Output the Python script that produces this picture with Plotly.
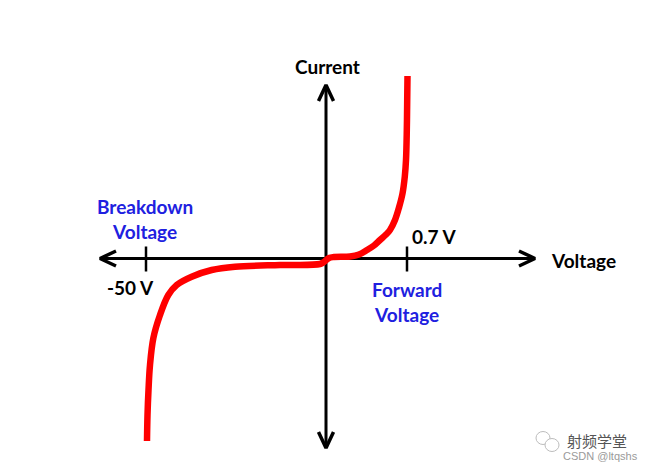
import plotly.graph_objects as go

# ---- data (schematic units: origin at axis crossing, 1 unit ~ 1 px) ----
curve_v = [-179, -178.5, -177.5, -176, -172.7, -166, -157.7, -149.3, -134.3, -114.3, -91,
           -46, -6, -2, 3, 8, 24, 33, 41, 48, 54, 60, 64, 69, 73, 76.5, 78.8, 80, 80.8, 81.2, 81.5]
curve_i = [-182.5, -156.5, -131.5, -106.5, -79.8, -56.5, -36.5, -26.5, -18.2, -11.5, -8.2,
           -6.5, -5.5, -3.5, 0.5, 1.5, 2, 4, 8.5, 13, 18.5, 24, 28.5, 38.5, 51, 65, 82,
           98.5, 128, 158, 182.5]

tick_positions = [-180, 81]
tick_labels = ["-50 V", "0.7 V"]

# axis extents
x_left, x_right = -226, 209
y_bottom, y_top = -189.5, 173.5

PAGE_MARGIN = 8          # default body margin of the html page
W, H = 652 - PAGE_MARGIN, 471 - PAGE_MARGIN
X0, Y0 = 326 - PAGE_MARGIN, 258.5 - PAGE_MARGIN  # figure pixel position of origin

fig = go.Figure()

axis_style = dict(color="black", width=3)

# horizontal & vertical axes
fig.add_trace(go.Scatter(x=[x_left + 3, x_right - 3], y=[0, 0], mode="lines",
                         line=axis_style, hoverinfo="skip"))
fig.add_trace(go.Scatter(x=[0, 0], y=[y_bottom + 3, y_top - 3], mode="lines",
                         line=axis_style, hoverinfo="skip"))

# chevron arrowheads
L, h = 16, 7.5
chev = [
    ([x_right - L, x_right, x_right - L], [h, 0, -h]),
    ([x_left + L, x_left, x_left + L], [h, 0, -h]),
    ([-h, 0, h], [y_top - L, y_top, y_top - L]),
    ([-h, 0, h], [y_bottom + L, y_bottom, y_bottom + L]),
]
for cx, cy in chev:
    fig.add_trace(go.Scatter(x=cx, y=cy, mode="lines",
                             line=dict(color="black", width=3.5),
                             hoverinfo="skip"))

# ticks
for tp in tick_positions:
    fig.add_trace(go.Scatter(x=[tp, tp], y=[-13, 12], mode="lines",
                             line=dict(color="black", width=2.5), hoverinfo="skip"))

# diode curve
fig.add_trace(go.Scatter(x=curve_v, y=curve_i, mode="lines",
                         line=dict(color="#ff0000", width=6.5, shape="spline", smoothing=1.0),
                         hoverinfo="skip"))

font_black = dict(family="Lato", size=19, color="black", weight="bold")
font_blue = dict(family="Lato", size=19, color="#2020e0", weight="bold")

ann = [
    dict(x=1, y=192.5, text="Current", font=font_black),
    dict(x=257, y=-2, text="Voltage", font=font_black),
    dict(x=tick_positions[0] - 16, y=-28.5, text=tick_labels[0], font=font_black),
    dict(x=tick_positions[1] + 27, y=22.5, text=tick_labels[1], font=font_black),
    dict(x=-181, y=40, text="Breakdown<br>Voltage", font=font_blue),
    dict(x=81, y=-43, text="Forward<br>Voltage", font=font_blue),
]
annotations = []
for a in ann:
    annotations.append(dict(x=a["x"], y=a["y"], xref="x", yref="y", text=a["text"],
                            showarrow=False, font=a["font"], align="center"))

# watermark
annotations.append(dict(x=271, y=-181.5, xref="x", yref="y", text="射频学堂", showarrow=False,
                        font=dict(family="Noto Sans CJK SC", size=15, color="#555555")))
annotations.append(dict(x=274, y=-197.5, xref="x", yref="y", text="CSDN @ltqshs", showarrow=False,
                        font=dict(family="Liberation Sans", size=11, color="#9a9a9a")))

shapes = [
    dict(type="circle", xref="x", yref="y", x0=210, x1=224, y0=-186, y1=-173,
         line=dict(color="#bdbdbd", width=1)),
    dict(type="circle", xref="x", yref="y", x0=219, x1=233, y0=-193, y1=-180,
         line=dict(color="#bdbdbd", width=1), fillcolor="white"),
]

fig.update_layout(
    width=W, height=H,
    margin=dict(l=0, r=0, t=0, b=0),
    paper_bgcolor="white", plot_bgcolor="white",
    showlegend=False,
    xaxis=dict(range=[-X0, W - X0], visible=False, fixedrange=True),
    yaxis=dict(range=[Y0 - H, Y0], visible=False, fixedrange=True),
    annotations=annotations,
    shapes=shapes,
)

fig.write_html("out.html")
